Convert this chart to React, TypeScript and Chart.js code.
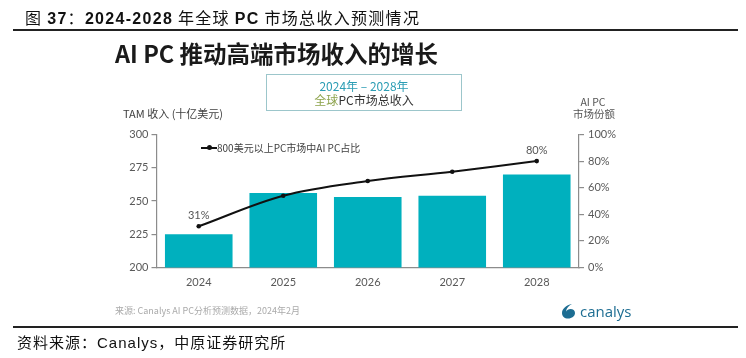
import React, { useEffect, useRef } from "react";
import { Chart, registerables } from "chart.js";

Chart.register(...registerables);

const categories = ["2024", "2025", "2026", "2027", "2028"];
const revenue = [225, 256, 253, 254, 270];
const aiShare = [31, 54, 65, 72, 80];
const aiShareLabels = ["31%", "", "", "", "80%"];
const leftTicks = [200, 225, 250, 275, 300];
const rightTicks = [0, 20, 40, 60, 80, 100];
const seriesName = "800美元以上PC市场中AI PC占比";

const FONT = "Lato, 'Noto Sans CJK SC', sans-serif";
const CJK = "'Noto Sans CJK SC', 'Noto Sans', sans-serif";

const labelPlugin = {
  id: "pointLabels",
  afterDatasetsDraw(chart: any) {
    const meta = chart.getDatasetMeta(0);
    const ctx = chart.ctx;
    ctx.save();
    ctx.fillStyle = "#555";
    ctx.font = `11px ${FONT}`;
    ctx.textAlign = "center";
    ctx.textBaseline = "middle";
    meta.data.forEach((pt: any, i: number) => {
      const t = aiShareLabels[i];
      if (t) ctx.fillText(t, pt.x, pt.y - 11);
    });
    ctx.restore();
  },
};

export default function App() {
  const ref = useRef<HTMLCanvasElement>(null);
  useEffect(() => {
    if (!ref.current) return;
    const chart = new Chart(ref.current, {
      type: "bar",
      data: {
        labels: categories,
        datasets: [
          {
            type: "line",
            label: seriesName,
            data: aiShare,
            yAxisID: "y1",
            borderColor: "#111",
            backgroundColor: "#111",
            borderWidth: 2,
            tension: 0.35,
            pointRadius: 2.3,
            pointBackgroundColor: "#111",
            pointBorderWidth: 0,
            order: 0,
          } as any,
          {
            type: "bar",
            label: "TAM",
            data: revenue,
            yAxisID: "y",
            backgroundColor: "#00B0BE",
            categoryPercentage: 0.8,
            barPercentage: 1.0,
            order: 1,
          },
        ],
      },
      options: {
        responsive: false,
        animation: false,
        layout: { padding: { top: 134.5, left: 0, right: 0, bottom: 0 } },
        plugins: { legend: { display: false }, tooltip: { enabled: false } },
        scales: {
          x: {
            offset: true,
            grid: { display: false, drawTicks: false },
            border: { color: "#8c8c8c", width: 1.2 },
            ticks: { color: "#595959", font: { size: 11, family: FONT }, padding: 8 },
            afterFit: (s: any) => { s.height = 90.5; },
          },
          y: {
            position: "left",
            min: 200,
            max: 300,
            afterBuildTicks: (s: any) => { s.ticks = leftTicks.map((v) => ({ value: v })); },
            grid: { drawOnChartArea: false, tickLength: 5, color: "#8c8c8c", lineWidth: 1.2 },
            border: { color: "#8c8c8c", width: 1.2 },
            ticks: { color: "#595959", font: { size: 11, family: FONT }, padding: 3 },
            afterFit: (s: any) => { s.width = 156.5; },
          },
          y1: {
            position: "right",
            min: 0,
            max: 100,
            afterBuildTicks: (s: any) => { s.ticks = rightTicks.map((v) => ({ value: v })); },
            grid: { drawOnChartArea: false, tickLength: 5, color: "#8c8c8c", lineWidth: 1.2 },
            border: { color: "#8c8c8c", width: 1.2 },
            ticks: { color: "#595959", font: { size: 11, family: FONT }, padding: 4, callback: (v: any) => v + "%" },
            afterFit: (s: any) => { s.width = 167; },
          },
        },
      },
      plugins: [labelPlugin],
    });
    return () => chart.destroy();
  }, []);

  const abs = (o: React.CSSProperties): React.CSSProperties => ({ position: "absolute", whiteSpace: "nowrap", ...o });
  const bold = { fontFamily: "'Liberation Sans', Arial, sans-serif" };

  return (
    <div style={{ position: "absolute", left: 0, top: 0, width: 746, height: 358, background: "#fff", overflow: "hidden", fontFamily: CJK }}>
      <canvas ref={ref} width={746} height={358} style={{ position: "absolute", left: 0, top: 0, width: 746, height: 358 }} />
      <div style={abs({ left: 25, top: 5, fontSize: 16, lineHeight: "24px", color: "#111", letterSpacing: 1.3 })}>
        图 <b style={bold}>37</b>：<b style={bold}>2024-2028</b> 年全球 <b style={bold}>PC</b> 市场总收入预测情况
      </div>
      <div style={abs({ left: 13, top: 28.5, width: 725, height: 2, background: "#222" })} />
      <div style={abs({ left: 115, top: 37, fontSize: 23.5, lineHeight: "32px", fontWeight: 700, color: "#1a1a1a" })}>AI PC 推动高端市场收入的增长</div>
      <div style={abs({ left: 266, top: 74, width: 196, height: 37, boxSizing: "border-box", border: "1.5px solid #9cc6cb", textAlign: "center", fontSize: 12, lineHeight: "14px", paddingTop: 4 })}>
        <div style={{ color: "#2b9db4" }}>2024年 – 2028年</div>
        <div style={{ color: "#333" }}><span style={{ color: "#8da34b" }}>全球</span>PC市场总收入</div>
      </div>
      <div style={abs({ left: 123, top: 106, fontSize: 11, lineHeight: "14px", color: "#404040" })}>TAM 收入 (十亿美元)</div>
      <div style={abs({ left: 573, top: 96, width: 40, textAlign: "center", fontSize: 10.5, lineHeight: "12px", color: "#555" })}>AI PC<br />市场份额</div>
      <div style={abs({ left: 201, top: 146.5, width: 16, height: 2, background: "#111" })} />
      <div style={abs({ left: 207, top: 145.3, width: 4.5, height: 4.5, borderRadius: 3, background: "#111" })} />
      <div style={abs({ left: 217, top: 140.5, fontSize: 10, lineHeight: "14px", color: "#404040" })}>{seriesName}</div>
      <div style={abs({ left: 115, top: 305, fontSize: 9, lineHeight: "12px", color: "#aaa" })}>来源: Canalys AI PC分析预测数据，2024年2月</div>
      <div style={abs({ left: 561, top: 302, display: "flex", alignItems: "center", gap: 3 })}>
        <svg width="16" height="16" viewBox="0 0 16 16">
          <path d="M11 1 C5 2 1 6 1 10 C1 13.5 3.5 15.5 7 15.5 C11 15.5 14 13 14 10 C14 7.5 12 6 9.5 6 C7.5 6 6 7 5 8.5 C5.5 5 8 2.5 11 1 Z" fill="#1d6d92" />
        </svg>
        <span style={{ fontSize: 15, lineHeight: "18px", color: "#1d6d92", fontFamily: "'Open Sans', sans-serif" }}>canalys</span>
      </div>
      <div style={abs({ left: 13, top: 326, width: 725, height: 2, background: "#222" })} />
      <div style={abs({ left: 17, top: 332, fontSize: 15, lineHeight: "20px", color: "#111", letterSpacing: 1 })}>
        资料来源：<span style={bold}>Canalys</span>，中原证券研究所
      </div>
    </div>
  );
}
